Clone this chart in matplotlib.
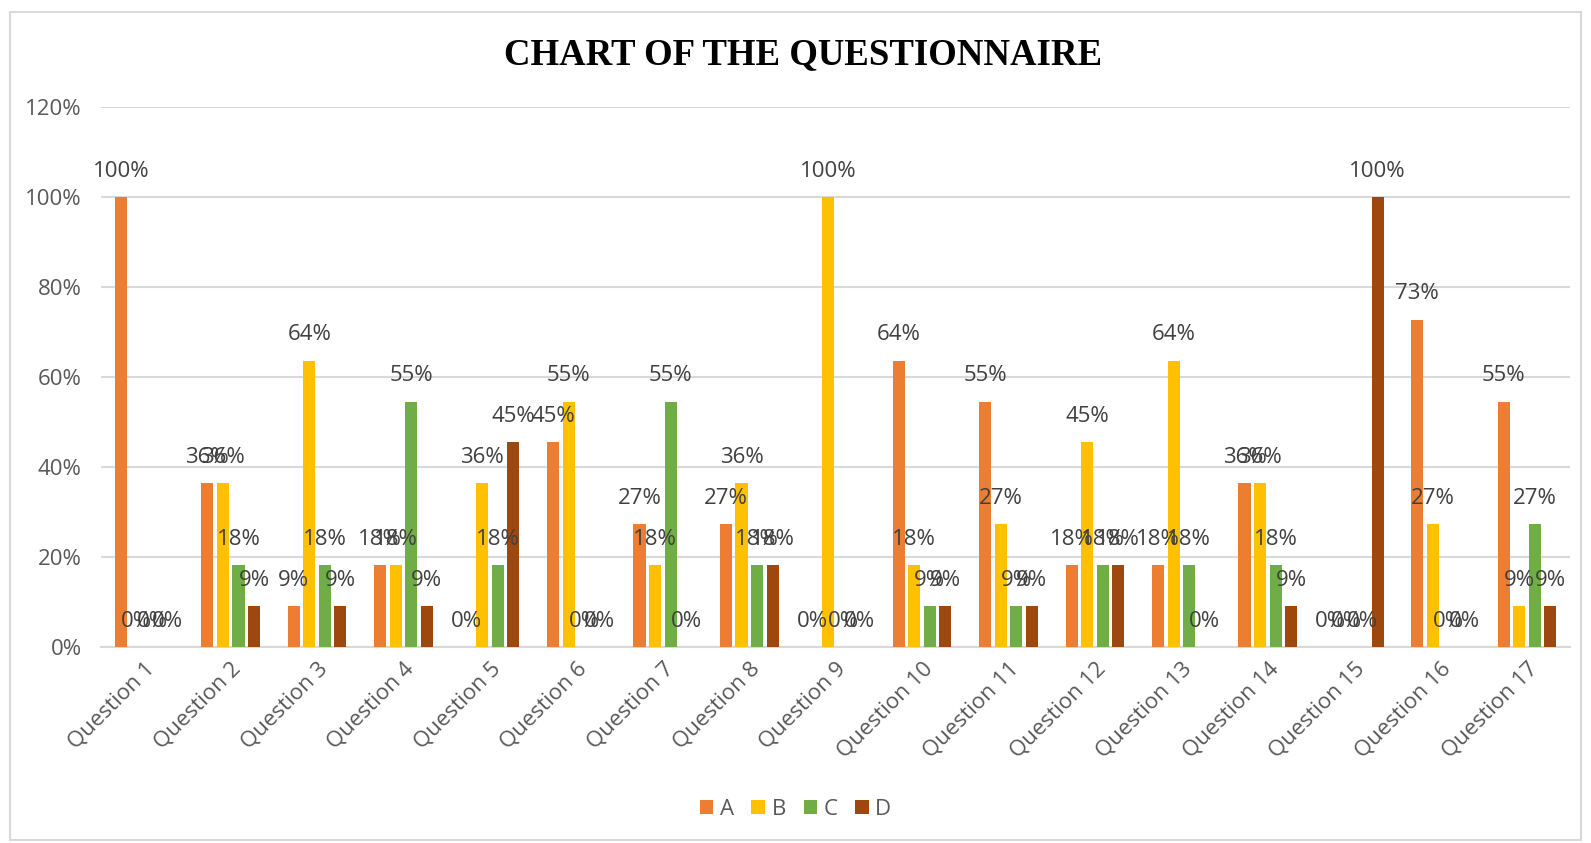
import numpy as np
import matplotlib.pyplot as plt
from matplotlib.patches import Rectangle

# responses out of 11 people, per question
questions = ["Question %d" % i for i in range(1, 18)]
n_people = 11
count_a = [11, 4, 1, 2, 0, 5, 3, 3, 0, 7, 6, 2, 2, 4, 0, 8, 6]
count_b = [0, 4, 7, 2, 4, 6, 2, 4, 11, 2, 3, 5, 7, 4, 0, 3, 1]
count_c = [0, 2, 2, 6, 2, 0, 6, 2, 0, 1, 1, 2, 2, 2, 0, 0, 3]
count_d = [0, 1, 1, 1, 5, 0, 0, 2, 0, 1, 1, 2, 0, 1, 11, 0, 1]
series_names = ["A", "B", "C", "D"]
colors = ["#ED7D31", "#FFC000", "#70AD47", "#9E480E"]

plt.rcParams['font.family'] = ['Open Sans', 'DejaVu Sans']
fs = 16

fig = plt.figure(figsize=(15.91, 8.43), dpi=100)
ax = fig.add_axes([0.0635, 0.2325, 0.9235, 0.6405])

x = np.arange(len(questions))
step = 0.18
width = 0.14
all_counts = [count_a, count_b, count_c, count_d]
for k in range(4):
    vals = np.array(all_counts[k]) / n_people
    pos = x + (k - 1.5) * step
    ax.bar(pos, vals, width, color=colors[k], label=series_names[k], zorder=3)
    for p, v in zip(pos, vals):
        ax.annotate("%d%%" % round(v * 100), (p, v), xytext=(0, 26),
                    textcoords='offset pixels', ha='center', va='center',
                    fontsize=fs, color='#404040', zorder=4)

ax.set_xlim(-0.5, len(questions) - 0.5)
ax.set_ylim(0, 1.2)
ax.set_yticks(np.arange(0, 1.21, 0.2))
ax.set_yticklabels(["%d%%" % round(t * 100) for t in np.arange(0, 1.21, 0.2)])
ax.set_xticks(x)
ax.set_xticklabels(questions, rotation=45, ha='right', rotation_mode='anchor')
ax.tick_params(axis='both', length=0, labelsize=fs, colors='#595959')
ax.tick_params(axis='y', pad=14)
ax.tick_params(axis='x', pad=8)
ax.grid(axis='y', color='#D9D9D9', linewidth=1.5, zorder=0)
for s in ['top', 'right', 'left']:
    ax.spines[s].set_visible(False)
ax.spines['bottom'].set_color('#D9D9D9')
ax.spines['bottom'].set_linewidth(1.5)

fig.text(0.505, 0.935, "CHART OF THE QUESTIONNAIRE", ha='center', va='center',
         fontsize=26.5, fontweight='bold', family='Liberation Serif')

fig.legend(loc='center', bbox_to_anchor=(0.5, 0.04), ncol=4, frameon=False,
           handlelength=0.6, handleheight=0.6, handletextpad=0.3,
           columnspacing=0.8, fontsize=fs, labelcolor='#595959')

fig.patches.append(Rectangle((0.006, 0.004), 0.988, 0.982, transform=fig.transFigure,
                             fill=False, edgecolor='#D9D9D9', linewidth=1.5))

fig.savefig("out.png", dpi=100)
